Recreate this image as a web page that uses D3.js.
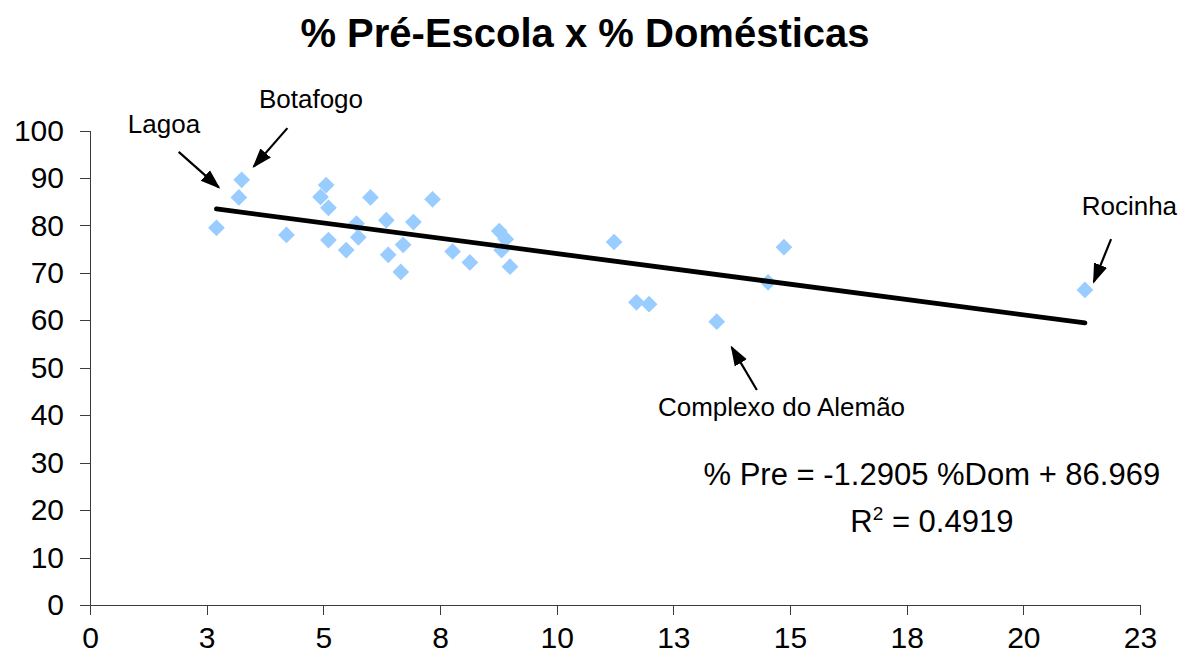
<!doctype html>
<html lang="pt">
  <head>
    <meta charset="UTF-8" />
    <title>% Pré-Escola x % Domésticas</title>
    <script src="https://d3js.org/d3.v7.min.js"></script>
    <style>
      body { margin: 0; background: #fff; }
      svg text { font-family: "Liberation Sans", Arial, sans-serif; fill: #000; }
      .axis path, .axis line { stroke: #3c3c3c; shape-rendering: crispEdges; }
    </style>
  </head>
  <body>
    <svg id="chart"></svg>
  <script>
    // % de domésticas (eixo x) e % na pré-escola (eixo y), um ponto por bairro
    const domesticas = [2.71, 3.19, 3.25, 4.21, 5.06, 4.94, 5.11, 5.11, 5.49, 6.01,
                        5.71, 5.75, 6.35, 6.39, 6.71, 6.66, 6.93, 7.34, 7.77, 8.14,
                        8.77, 8.91, 8.82, 9.00, 11.23, 11.71, 11.98, 13.43, 14.53, 14.87,
                        21.32];
    const preEscola  = [79.5, 85.9, 89.6, 78.0, 88.5, 86.0, 83.7, 76.9, 74.8, 85.9,
                        80.4, 77.5, 81.1, 73.8, 75.9, 70.2, 80.7, 85.5, 74.5, 72.2,
                        78.8, 77.1, 74.8, 71.3, 76.5, 63.8, 63.4, 59.7, 68.0, 75.4,
                        66.4];

    const xTicks = [0, 2.5, 5, 7.5, 10, 12.5, 15, 17.5, 20, 22.5];
    const xTickLabels = ["0", "3", "5", "8", "10", "13", "15", "18", "20", "23"];
    const yTicks = [0, 10, 20, 30, 40, 50, 60, 70, 80, 90, 100];

    // linha de tendência (regressão linear do Excel)
    const slope = -1.2905, intercept = 86.969, r2 = 0.4919;

    // rótulos com seta: posição do texto e da seta em unidades dos eixos
    const annotations = [
      { label: "Lagoa",              tx: 0.81,  ty: 99.5, from: [1.90, 95.5],  to: [2.76, 88.0] },
      { label: "Botafogo",           tx: 3.62,  ty: 104.7, from: [4.23, 100.5], to: [3.51, 92.4] },
      { label: "Rocinha",            tx: 21.25, ty: 82.2, from: [21.88, 77.1], to: [21.51, 68.1] },
      { label: "Complexo do Alemão", tx: 12.17, ty: 39.8, from: [14.29, 45.3], to: [13.75, 54.3] }
    ];

    const width = 1189, height = 670;

    const x = d3.scaleLinear().domain([0, 22.5]).range([90, 1140]);
    const y = d3.scaleLinear().domain([0, 100]).range([605, 130.5]);

    const svg = d3.select("#chart")
      .attr("width", width)
      .attr("height", height);

    svg.append("text")
      .attr("x", 585)
      .attr("y", 47)
      .attr("text-anchor", "middle")
      .attr("font-size", "40px")
      .attr("font-weight", "bold")
      .text("% Pré-Escola x % Domésticas");

    // eixos
    svg.append("g")
      .attr("class", "axis")
      .attr("transform", `translate(0,${y(0)})`)
      .call(d3.axisBottom(x)
        .tickValues(xTicks)
        .tickFormat((d, i) => xTickLabels[i])
        .tickSize(10)
        .tickSizeOuter(0)
        .tickPadding(12))
      .call(g => g.selectAll("text").attr("font-size", "30px").attr("fill", "#000"));

    svg.append("g")
      .attr("class", "axis")
      .attr("transform", `translate(${x(0)},0)`)
      .call(d3.axisLeft(y)
        .tickValues(yTicks)
        .tickSize(10)
        .tickSizeOuter(0)
        .tickPadding(16))
      .call(g => g.selectAll("text").attr("font-size", "30px").attr("fill", "#000"));

    // pontos (losangos)
    const diamond = d3.symbol(d3.symbolSquare, 140);
    svg.append("g")
      .selectAll("path")
      .data(d3.zip(domesticas, preEscola))
      .join("path")
      .attr("transform", d => `translate(${x(d[0])},${y(d[1])}) rotate(45)`)
      .attr("d", diamond)
      .attr("fill", "#99ccff");

    // tendência, do menor ao maior x
    const xExt = d3.extent(domesticas);
    svg.append("path")
      .datum(xExt.map(v => [v, slope * v + intercept]))
      .attr("d", d3.line().x(d => x(d[0])).y(d => y(d[1])))
      .attr("fill", "none")
      .attr("stroke", "#000")
      .attr("stroke-width", 4.8)
      .attr("stroke-linecap", "round");

    // setas
    svg.append("defs").append("marker")
      .attr("id", "arrow")
      .attr("markerUnits", "userSpaceOnUse")
      .attr("viewBox", "0 -8 20 16")
      .attr("refX", 18)
      .attr("refY", 0)
      .attr("markerWidth", 20)
      .attr("markerHeight", 16)
      .attr("orient", "auto")
      .append("path")
      .attr("d", "M0,-7L20,0L0,7Z")
      .attr("fill", "#000");

    const ann = svg.append("g");
    ann.selectAll("line")
      .data(annotations)
      .join("line")
      .attr("x1", d => x(d.from[0]))
      .attr("y1", d => y(d.from[1]))
      .attr("x2", d => x(d.to[0]))
      .attr("y2", d => y(d.to[1]))
      .attr("stroke", "#000")
      .attr("stroke-width", 2.2)
      .attr("marker-end", "url(#arrow)");

    ann.selectAll("text")
      .data(annotations)
      .join("text")
      .attr("x", d => x(d.tx))
      .attr("y", d => y(d.ty))
      .attr("font-size", "26px")
      .text(d => d.label);

    // equação e R²
    const eq = svg.append("text")
      .attr("text-anchor", "middle")
      .attr("font-size", "31px");
    eq.append("tspan")
      .attr("x", x(18.04))
      .attr("y", y(25.3))
      .text(`% Pre = ${slope} %Dom + ${intercept}`);
    const r2Line = eq.append("tspan")
      .attr("x", x(18.04))
      .attr("y", y(15.4));
    r2Line.append("tspan").text("R");
    r2Line.append("tspan")
      .attr("font-size", "19px")
      .attr("dy", "-12")
      .text("2");
    r2Line.append("tspan")
      .attr("dy", "12")
      .text(` = ${r2}`);
  </script>
  </body>
</html>
